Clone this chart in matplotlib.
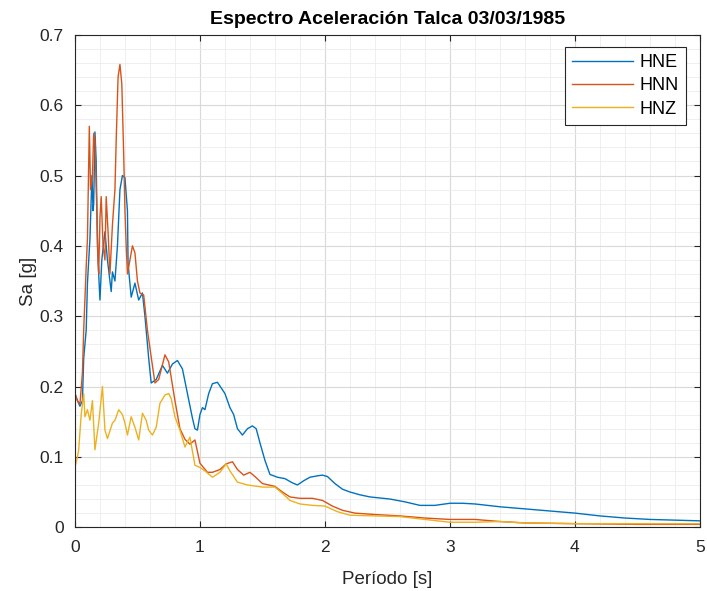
import matplotlib
matplotlib.use("Agg")
import matplotlib.pyplot as plt
from matplotlib.ticker import MultipleLocator

plt.rcParams['font.family'] = ['Liberation Sans', 'DejaVu Sans']

title = "Espectro Aceleración Talca 03/03/1985"
xlabel = "Período [s]"
ylabel = "Sa [g]"
labels = ["HNE", "HNN", "HNZ"]
colors = ["#0072BD", "#D95319", "#EDB120"]

hne_t = [0.00, 0.02, 0.04, 0.06, 0.07, 0.09, 0.10, 0.12, 0.136, 0.145, 0.15, 0.16, 0.17, 0.18, 0.19,
         0.20, 0.215, 0.24, 0.26, 0.29, 0.30, 0.32, 0.34, 0.36, 0.38, 0.40, 0.42, 0.425, 0.45, 0.48,
         0.51, 0.54, 0.56, 0.59, 0.61, 0.65, 0.70, 0.74, 0.78, 0.82, 0.86, 0.90, 0.94, 0.96, 0.98,
         1.00, 1.02, 1.04, 1.07, 1.10, 1.14, 1.17, 1.20, 1.24, 1.27, 1.30, 1.34, 1.38, 1.42, 1.45,
         1.48, 1.52, 1.56, 1.62, 1.68, 1.74, 1.78, 1.83, 1.88, 1.94, 1.98, 2.02, 2.08, 2.14, 2.20,
         2.28, 2.36, 2.52, 2.64, 2.76, 2.88, 3.00, 3.10, 3.20, 3.30, 3.40, 3.60, 3.80, 4.00, 4.20,
         4.40, 4.60, 4.80, 5.00]
hne_sa = [0.19, 0.18, 0.172, 0.18, 0.24, 0.28, 0.347, 0.41, 0.50, 0.45, 0.46, 0.562, 0.52, 0.40, 0.36,
          0.323, 0.38, 0.42, 0.38, 0.335, 0.363, 0.35, 0.40, 0.48, 0.50, 0.497, 0.45, 0.375, 0.327, 0.347,
          0.323, 0.333, 0.30, 0.24, 0.205, 0.21, 0.23, 0.219, 0.232, 0.237, 0.225, 0.19, 0.155, 0.14, 0.138,
          0.16, 0.17, 0.167, 0.19, 0.204, 0.206, 0.198, 0.19, 0.17, 0.16, 0.14, 0.131, 0.14, 0.144, 0.14,
          0.12, 0.095, 0.075, 0.071, 0.069, 0.063, 0.060, 0.066, 0.071, 0.073, 0.074, 0.072, 0.062, 0.054, 0.050,
          0.046, 0.043, 0.040, 0.036, 0.031, 0.031, 0.034, 0.034, 0.033, 0.031, 0.029, 0.026, 0.023, 0.020, 0.016,
          0.013, 0.011, 0.010, 0.009]

hnn_t = [0.00, 0.02, 0.04, 0.06, 0.07, 0.09, 0.10, 0.115, 0.125, 0.14, 0.15, 0.16, 0.175, 0.185, 0.19,
         0.20, 0.21, 0.225, 0.24, 0.25, 0.265, 0.28, 0.30, 0.32, 0.33, 0.345, 0.36, 0.375, 0.39, 0.40,
         0.41, 0.42, 0.44, 0.46, 0.48, 0.50, 0.52, 0.55, 0.58, 0.61, 0.64, 0.67, 0.72, 0.75, 0.80,
         0.84, 0.88, 0.92, 0.96, 1.00, 1.06, 1.10, 1.16, 1.21, 1.26, 1.30, 1.35, 1.40, 1.44, 1.50,
         1.60, 1.66, 1.72, 1.80, 1.90, 1.98, 2.06, 2.14, 2.24, 2.40, 2.60, 2.80, 3.00, 3.20, 3.40,
         3.60, 4.00, 4.50, 5.00]
hnn_sa = [0.19, 0.18, 0.175, 0.22, 0.28, 0.37, 0.41, 0.57, 0.48, 0.50, 0.56, 0.55, 0.45, 0.38, 0.36,
          0.44, 0.47, 0.40, 0.38, 0.47, 0.42, 0.36, 0.43, 0.48, 0.55, 0.64, 0.658, 0.63, 0.53, 0.45,
          0.40, 0.36, 0.38, 0.40, 0.39, 0.35, 0.333, 0.33, 0.28, 0.242, 0.205, 0.21, 0.245, 0.235, 0.18,
          0.14, 0.125, 0.118, 0.124, 0.091, 0.078, 0.078, 0.082, 0.09, 0.093, 0.082, 0.074, 0.078, 0.072, 0.062,
          0.058, 0.050, 0.043, 0.041, 0.041, 0.038, 0.030, 0.024, 0.020, 0.018, 0.016, 0.013, 0.011, 0.011, 0.008,
          0.006, 0.005, 0.004, 0.004]

hnz_t = [0.00, 0.02, 0.03, 0.05, 0.07, 0.08, 0.10, 0.12, 0.14, 0.16, 0.19, 0.22, 0.24, 0.26, 0.30,
         0.32, 0.35, 0.38, 0.40, 0.42, 0.45, 0.48, 0.51, 0.54, 0.57, 0.59, 0.62, 0.65, 0.68, 0.72,
         0.75, 0.77, 0.80, 0.84, 0.88, 0.92, 0.96, 1.00, 1.04, 1.10, 1.16, 1.21, 1.24, 1.30, 1.38,
         1.50, 1.60, 1.66, 1.72, 1.80, 1.90, 2.00, 2.10, 2.20, 2.40, 2.60, 2.80, 3.00, 3.20, 3.40,
         3.60, 4.00, 5.00]
hnz_sa = [0.085, 0.10, 0.11, 0.16, 0.19, 0.157, 0.167, 0.152, 0.18, 0.11, 0.148, 0.20, 0.138, 0.126, 0.148,
          0.152, 0.167, 0.16, 0.148, 0.131, 0.157, 0.142, 0.124, 0.162, 0.152, 0.138, 0.131, 0.142, 0.176, 0.188,
          0.19, 0.183, 0.157, 0.138, 0.114, 0.128, 0.088, 0.085, 0.080, 0.071, 0.078, 0.09, 0.080, 0.064, 0.060,
          0.057, 0.057, 0.048, 0.038, 0.033, 0.031, 0.030, 0.022, 0.017, 0.016, 0.015, 0.011, 0.007, 0.007, 0.008,
          0.006, 0.005, 0.005]

series = [(hne_t, hne_sa), (hnn_t, hnn_sa), (hnz_t, hnz_sa)]

fig = plt.figure(figsize=(7.07, 5.91), dpi=100)
ax = fig.add_axes([0.106, 0.108, 0.884, 0.833])

for (t, sa), lab, c in zip(series, labels, colors):
    ax.plot(t, sa, color=c, lw=1.0, label=lab)

ax.set_xlim(0, 5)
ax.set_ylim(0, 0.7)
ax.xaxis.set_major_locator(MultipleLocator(1))
ax.xaxis.set_minor_locator(MultipleLocator(0.2))
ax.yaxis.set_minor_locator(MultipleLocator(0.02))
ax.set_yticks([0, 0.1, 0.2, 0.3, 0.4, 0.5, 0.6, 0.7])
ax.set_yticklabels(["0", "0.1", "0.2", "0.3", "0.4", "0.5", "0.6", "0.7"])
ax.grid(True, which='major', color='#d9d9d9', lw=0.8)
ax.grid(True, which='minor', color='#ececec', lw=0.6)
ax.set_axisbelow(True)
ax.tick_params(which='both', direction='in', top=True, right=True, labelsize=12.5, colors='#262626')
ax.tick_params(which='minor', length=0)
ax.tick_params(axis='x', which='major', length=4, pad=9)
ax.tick_params(axis='y', which='major', length=4, pad=8)
for s in ax.spines.values():
    s.set_color('#262626')
    s.set_linewidth(0.8)

ax.set_title(title, fontsize=14, fontweight='bold', pad=8)
ax.set_xlabel(xlabel, fontsize=13.5, color='#262626', labelpad=12)
ax.set_ylabel(ylabel, fontsize=13.5, color='#262626', labelpad=2)

leg = ax.legend(loc='upper right', bbox_to_anchor=(0.978, 0.976), fontsize=13,
                frameon=True, fancybox=False, edgecolor='#262626', framealpha=1,
                handlelength=3.4, handletextpad=0.35, borderpad=0.4, labelspacing=0.35,
                borderaxespad=0.0)
leg.get_frame().set_linewidth(0.8)

fig.savefig("out.png", dpi=100)
